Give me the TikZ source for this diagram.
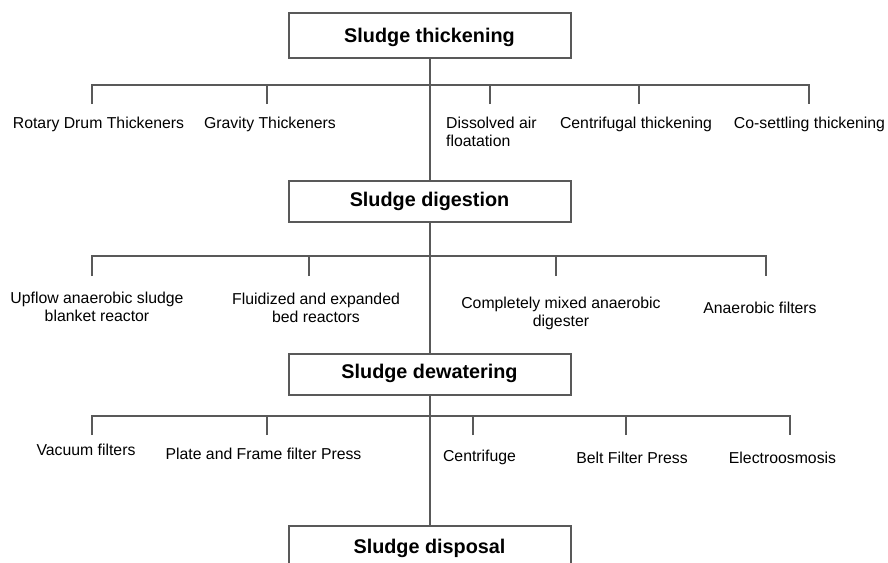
\documentclass[tikz,border=0pt]{standalone}
\usepackage{fontspec}
\setmainfont{Liberation Sans}
\usetikzlibrary{positioning}

\begin{document}
\begin{tikzpicture}[x=1pt, y=-1pt,
    link/.style={draw=black!65, line width=2pt},
    stage/.style={link, minimum width=282pt, minimum height=41pt, inner sep=0pt,
      text height=14pt, text depth=0pt, font=\fontsize{19.8}{23}\selectfont\bfseries},
    item/.style={inner sep=0pt, align=center, anchor=base, font=\fontsize{15.8}{18}\selectfont}]
    \useasboundingbox (0,0) rectangle (888,562);

    % Stages
    \node[stage, minimum height=45pt] (thick) at (429.5,35)    {Sludge thickening};
    \node[stage, text depth=3.6pt]    (dig)   at (429.5,201.5) {Sludge digestion};
    \node[stage, text depth=7pt]      (dew)   at (429.5,374.5) {Sludge dewatering};
    \node[stage, text depth=1pt]      (disp)  at (429.5,546.5) {Sludge disposal};
    \draw[link] (thick) -- (dig) -- (dew) -- (disp);

    % Thickening methods (two-line labels sit on their last baseline)
    \coordinate (t11) at (92,104);
    \coordinate (t12) at (267,104);
    \coordinate (t13) at (490,104);
    \coordinate (t14) at (639,104);
    \coordinate (t15) at (809,104);
    \coordinate (b1) at (429.5,85);
    \draw[link] (t11) -- (t11 |- b1) -- (t15 |- b1) -- (t15);
    \path[link] (t12) edge (t12 |- b1) (t13) edge (t13 |- b1) (t14) edge (t14 |- b1);
    \node[item]             (rdt) at (98.5,128) {Rotary Drum Thickeners};
    \node[item]             (gt)  at (270,128)  {Gravity Thickeners};
    \node[item, align=left, anchor=base west] (daf) at (446,146) {Dissolved air\\floatation};
    \node[item]             (ct)  at (636,128)  {Centrifugal thickening};
    \node[item]             (cst) at (809.5,128) {Co-settling thickening};

    % Digestion reactors
    \coordinate (t21) at (92,276);
    \coordinate (t22) at (309,276);
    \coordinate (t23) at (556,276);
    \coordinate (t24) at (766,276);
    \coordinate (b2) at (429.5,256);
    \draw[link] (t21) -- (t21 |- b2) -- (t24 |- b2) -- (t24);
    \path[link] (t22) edge (t22 |- b2) (t23) edge (t23 |- b2);
    \node[item] (uasb) at (97,321)  {Upflow anaerobic sludge\\blanket reactor};
    \node[item] (febr) at (316,322) {Fluidized and expanded\\bed reactors};
    \node[item] (cmad) at (561,326) {Completely mixed anaerobic\\digester};
    \node[item] (af)   at (760,313) {Anaerobic filters};

    % Dewatering equipment
    \coordinate (t31) at (92,435);
    \coordinate (t32) at (267,435);
    \coordinate (t33) at (473,435);
    \coordinate (t34) at (626,435);
    \coordinate (t35) at (790,435);
    \coordinate (b3) at (429.5,416);
    \draw[link] (t31) -- (t31 |- b3) -- (t35 |- b3) -- (t35);
    \path[link] (t32) edge (t32 |- b3) (t33) edge (t33 |- b3) (t34) edge (t34 |- b3);
    \node[item] (vf)  at (86,455)    {Vacuum filters};
    \node[item] (pff) at (263.5,459) {Plate and Frame filter Press};
    \node[item] (cf)  at (479.5,461) {Centrifuge};
    \node[item] (bfp) at (632,463)   {Belt Filter Press};
    \node[item] (eo)  at (782.5,463.5) {Electroosmosis};
\end{tikzpicture}
\end{document}
